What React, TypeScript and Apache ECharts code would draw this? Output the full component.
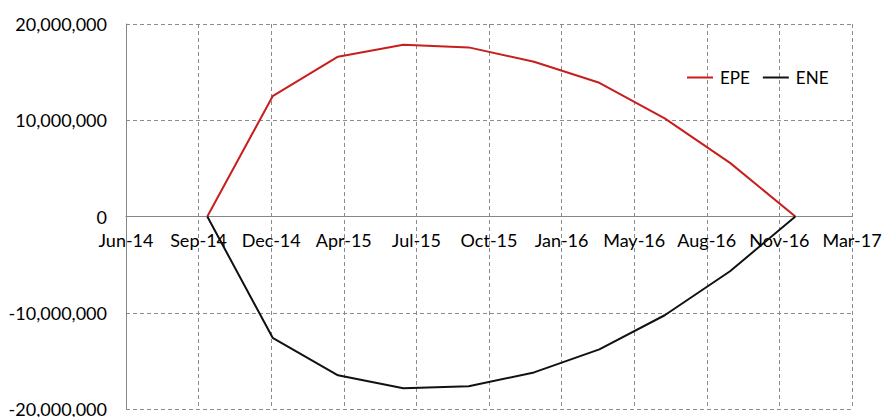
import React, { useEffect, useRef } from "react";
import * as echarts from "echarts";

const axisStart = "2014-06-10";
const tickStepDays = 100;
const tickLabels = ["Jun-14", "Sep-14", "Dec-14", "Apr-15", "Jul-15", "Oct-15", "Jan-16", "May-16", "Aug-16", "Nov-16", "Mar-17"];
const dates = ["2014-09-30", "2014-12-29", "2015-03-29", "2015-06-27", "2015-09-25", "2015-12-24", "2016-03-23", "2016-06-21", "2016-09-19", "2016-12-18"];
const epe = [0, 12500000, 16600000, 17850000, 17570000, 16070000, 13890000, 10190000, 5570000, 0];
const ene = [0, -12600000, -16500000, -17850000, -17640000, -16200000, -13800000, -10260000, -5690000, 0];

const DAY = 86400000;
const dayOffset = (d: string) => Math.round((Date.parse(d) - Date.parse(axisStart)) / DAY);

const FONT = "Lato, 'Open Sans', sans-serif";
const GRID_TOP = 24;
const GRID_BOTTOM = 8;
const HEIGHT = 417;

export default function App() {
  const ref = useRef<HTMLDivElement>(null);
  useEffect(() => {
    if (!ref.current) return;
    const chart = echarts.init(ref.current, null, { renderer: "svg" });
    const gridLine = { show: true, lineStyle: { color: "#8c8c8c", type: [4, 3] as any, width: 1 } };
    const plotH = HEIGHT - GRID_TOP - GRID_BOTTOM;
    chart.setOption({
      animation: false,
      backgroundColor: "#ffffff",
      grid: { left: 126, right: 31, top: GRID_TOP, bottom: GRID_BOTTOM, containLabel: false, outerBoundsMode: "none" },
      legend: {
        left: 682,
        top: 64,
        icon: "rect",
        itemWidth: 26,
        itemHeight: 2,
        itemGap: 13,
        textStyle: { fontFamily: FONT, fontSize: 17, color: "#000", padding: [0, 0, 0, 2] },
        data: ["EPE", "ENE"],
      },
      xAxis: {
        type: "value",
        min: 0,
        max: tickStepDays * (tickLabels.length - 1),
        interval: tickStepDays,
        position: "bottom",
        offset: -plotH / 2,
        axisLine: { show: true, onZero: false, lineStyle: { color: "#868686", width: 1 } },
        axisTick: { show: false },
        splitLine: gridLine,
        axisLabel: {
          margin: 14,
          fontFamily: FONT,
          fontSize: 18,
          color: "#000",
          showMinLabel: true,
          showMaxLabel: true,
          formatter: (v: number) => tickLabels[Math.round(v / tickStepDays)] ?? "",
        },
      },
      yAxis: {
        type: "value",
        min: -20000000,
        max: 20000000,
        interval: 10000000,
        axisLine: { show: true, onZero: false, lineStyle: { color: "#868686", width: 1 } },
        axisTick: { show: false },
        splitLine: gridLine,
        axisLabel: {
          margin: 19,
          fontFamily: FONT,
          fontSize: 18,
          color: "#000",
          formatter: (v: number) => v.toLocaleString("en-US"),
        },
      },
      series: [
        {
          name: "EPE",
          type: "line",
          symbol: "none",
          lineStyle: { color: "#c81e1e", width: 2 },
          itemStyle: { color: "#c81e1e" },
          data: dates.map((d, i) => [dayOffset(d), epe[i]]),
        },
        {
          name: "ENE",
          type: "line",
          symbol: "none",
          lineStyle: { color: "#111111", width: 2 },
          itemStyle: { color: "#111111" },
          data: dates.map((d, i) => [dayOffset(d), ene[i]]),
        },
      ],
    });
    return () => chart.dispose();
  }, []);
  return <div ref={ref} style={{ position: "absolute", left: 0, top: 0, width: 883, height: 417 }} />;
}
